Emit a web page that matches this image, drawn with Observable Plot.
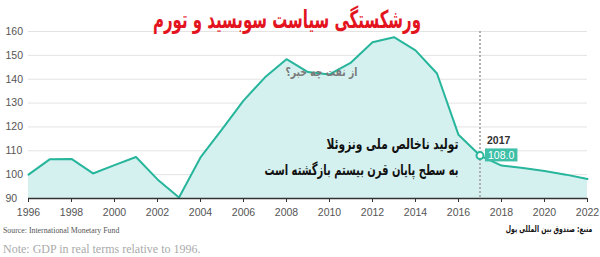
<!DOCTYPE html>
<html><head><meta charset="utf-8">
<script src="https://cdn.jsdelivr.net/npm/d3@7"></script>
<script src="https://cdn.jsdelivr.net/npm/@observablehq/plot@0.6"></script>
<style>
body{margin:0;background:#fff;}
#wrap{position:relative;width:600px;height:257px;overflow:hidden;background:#fff;}
#wrap svg{position:absolute;left:0;top:0;}
.cap{position:absolute;white-space:nowrap;line-height:1;}
</style></head><body><div id="wrap"></div>
<script>
const years = [1996,1997,1998,1999,2000,2001,2002,2003,2004,2005,2006,2007,2008,2009,2010,2011,2012,2013,2014,2015,2016,2017,2018,2019,2020,2021,2022];
const gdp = [100,106.5,106.6,100.5,104,107.4,98,90.4,107.2,119,131,140.8,148.4,143,142,147,155.5,157.6,152.1,142.4,116.7,108.0,103.8,102.8,101.5,100,98.2];
const xTicks = [1996,1998,2000,2002,2004,2006,2008,2010,2012,2014,2016,2018,2020,2022];
const yTicks = [90,100,110,120,130,140,150,160];
const titleText = ["ورشکستگی سیاست سوبسید و تورم"];
const markYear = [2017];
const markValue = [108.0];
const noteOil = ["از نفت چه خبر؟"];
const noteGdp1 = ["تولید ناخالص ملی ونزوئلا"];
const noteGdp2 = ["به سطح پایان قرن بیستم بازگشته است"];
const sourceEn = "Source: International Monetary Fund";
const noteEn = "Note: GDP in real terms relative to 1996.";
const sourceFa = "منبع: صندوق بین المللی پول";

const teal = "#27b59c";
const data = years.map((y, i) => ({year: y, gdp: gdp[i]}));
const mark = markYear.map((y, i) => ({year: y, gdp: markValue[i]}));
const fa = "DejaVu Sans, sans-serif";

const chart = Plot.plot({
  width: 600, height: 218,
  marginLeft: 28, marginRight: 13, marginTop: 31, marginBottom: 20,
  x: {domain: [1996, 2022], label: null},
  y: {domain: [90, 160], label: null},
  style: {fontFamily: "Liberation Sans, Arial, sans-serif", fontSize: "10.5px", color: "#555", background: "white", overflow: "visible"},
  marks: [
    Plot.gridY(yTicks, {stroke: "#e3e3e3", strokeOpacity: 1}),
    Plot.areaY(data, {x: "year", y1: 90, y2: "gdp", fill: "#d5f1ef"}),
    Plot.ruleX(markYear, {stroke: "#9a9a9a", strokeDasharray: "2,2", strokeWidth: 1.5}),
    Plot.line(data, {x: "year", y: "gdp", stroke: teal, strokeWidth: 2}),
    Plot.axisX({ticks: xTicks, tickSize: 4, tickPadding: 6, tickFormat: d => String(d), stroke: "#333", label: null}),
    Plot.ruleY([90], {stroke: "#333", strokeWidth: 1.3}),
    Plot.axisY({ticks: yTicks, tickSize: 0, tickPadding: 23, textAnchor: "start", tickFormat: d => String(d), label: null}),
    Plot.dot(mark, {x: "year", y: "gdp", r: 3.5, fill: "white", stroke: teal, strokeWidth: 2}),
    Plot.text(mark, {x: "year", y: "gdp", text: d => d.gdp.toFixed(1), textAnchor: "start", dx: 8, fill: "white", fontSize: 10.5}),
    Plot.text(mark, {x: "year", y: "gdp", text: d => String(d.year), textAnchor: "start", dx: 7, dy: -15, fill: "#333", fontWeight: "bold", fontSize: 10.5}),
    Plot.text(noteOil, {x: 2011.3, y: 143.1, text: d => d, textAnchor: "end", fill: "#7a7a7a", fontWeight: "bold", fontSize: 12, fontFamily: fa}),
    Plot.text(noteGdp1, {x: 2016, y: 112.9, text: d => d, textAnchor: "end", fill: "#111", fontWeight: "bold", fontSize: 15, fontFamily: fa}),
    Plot.text(noteGdp2, {x: 2016, y: 101.7, text: d => d, textAnchor: "end", fill: "#111", fontWeight: "bold", fontSize: 15, fontFamily: fa}),
    Plot.text(titleText, {frameAnchor: "top", dx: -21, dy: -21, text: d => d, fill: "#e3141e", fontWeight: "bold", fontSize: 25, fontFamily: fa})
  ]
});

const wrap = document.getElementById("wrap");
wrap.appendChild(chart);

// rectangle background behind the value label, sized from the text itself
const valueLabels = markValue.map(v => v.toFixed(1));
d3.select(chart).selectAll("text").filter(function() { return valueLabels.includes(this.textContent); }).each(function() {
  const b = this.getBBox();
  const t = this.getAttribute("transform");
  const r = d3.select(this.parentNode).insert("rect", () => this)
    .attr("x", b.x - 3).attr("y", b.y - 0.5).attr("width", b.width + 6).attr("height", b.height + 1)
    .attr("fill", "#3dbfa8");
  if (t) r.attr("transform", t);
});

// condense the Persian lettering to the reference's narrower typeface
const fit = new Map([[titleText[0], 268], [noteOil[0], 72], [noteGdp1[0], 132], [noteGdp2[0], 194]]);
d3.select(chart).selectAll("text").filter(function() { return fit.has(this.textContent); }).each(function() {
  d3.select(this).attr("textLength", fit.get(this.textContent)).attr("lengthAdjust", "spacingAndGlyphs");
});

function cap(text, css) {
  const d = document.createElement("div");
  d.className = "cap";
  d.textContent = text;
  Object.assign(d.style, css);
  wrap.appendChild(d);
  return d;
}
cap(sourceEn, {left: "3px", top: "226px", fontFamily: "Liberation Serif, serif", fontSize: "9px", color: "#555", transform: "scaleX(0.87)", transformOrigin: "left center"});
cap(noteEn, {left: "3px", top: "243px", fontFamily: "Liberation Serif, serif", fontSize: "12px", color: "#aaa"});
cap(sourceFa, {right: "8px", top: "225px", fontFamily: fa, fontSize: "9px", fontWeight: "bold", color: "#111", direction: "rtl", transform: "scaleX(0.68)", transformOrigin: "right center"});
</script></body></html>
